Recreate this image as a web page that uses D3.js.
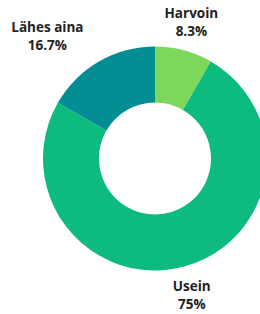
<!DOCTYPE html>
<html lang="fi">
<head>
<meta charset="UTF-8">
<title>Donut</title>
<script src="https://d3js.org/d3.v7.min.js"></script>
<style>
  html, body { margin: 0; padding: 0; background: #fff; }
  svg { display: block; }
  .lbl { font-family: 'Open Sans', sans-serif; font-weight: 700; font-size: 13.5px; fill: #222; text-anchor: middle; }
</style>
</head>
<body>
<div id="chart"></div>
<script>
const categories = ["Harvoin", "Usein", "Lähes aina"];
const values = [8.3, 75, 16.7];
const valueLabels = ["8.3%", "75%", "16.7%"];
const colors = ["#7dd75a", "#0cbb7d", "#048d93"];

const width = 260, height = 314;
const cx = 155, cy = 158.5;
const outerR = 112, innerR = 56, labelR = 141;

const svg = d3.select("#chart").append("svg")
  .attr("width", width)
  .attr("height", height);

const g = svg.append("g").attr("transform", `translate(${cx},${cy})`);

const pie = d3.pie().sort(null).value(d => d.value);
const arc = d3.arc().innerRadius(innerR).outerRadius(outerR);
const labelArc = d3.arc().innerRadius(labelR).outerRadius(labelR);

const data = categories.map((c, i) => ({ name: c, value: values[i], text: valueLabels[i], color: colors[i] }));
const arcs = pie(data);

g.selectAll("path.slice")
  .data(arcs)
  .enter().append("path")
  .attr("class", "slice")
  .attr("fill", d => d.data.color)
  .attr("d", arc);

// the left label sits further out in the original
const nudge = { "Lähes aina": -37 };

const lbl = g.selectAll("text.lbl")
  .data(arcs)
  .enter().append("text")
  .attr("class", "lbl")
  .attr("transform", d => {
    const [x, y] = labelArc.centroid(d);
    return `translate(${x + (nudge[d.data.name] || 0)},${y})`;
  });

lbl.append("tspan").attr("x", 0).attr("y", -4).text(d => d.data.name);
lbl.append("tspan").attr("x", 0).attr("y", 14).text(d => d.data.text);
</script>
</body>
</html>
